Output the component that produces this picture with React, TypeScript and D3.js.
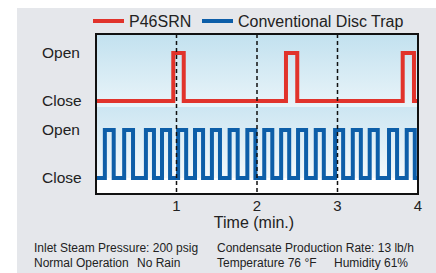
import React from 'react';
import * as d3 from 'd3';

// time in minutes
const timeTicks = [1, 2, 3, 4];
const gridTimes = [1, 2, 3];
const levelLabels = ['Open', 'Close'];

// open intervals [start, end] in minutes
const p46Open = [
  [0.96, 1.09],
  [2.36, 2.5],
  [3.81, 3.95],
];
const discOpen = [
  [0.11, 0.22], [0.35, 0.46], [0.62, 0.72], [0.82, 0.92], [1.02, 1.12],
  [1.23, 1.33], [1.44, 1.54], [1.66, 1.76], [1.88, 1.98], [2.09, 2.19],
  [2.3, 2.4], [2.51, 2.61], [2.73, 2.83], [2.97, 3.07], [3.19, 3.29],
  [3.4, 3.5], [3.64, 3.74], [3.86, 3.96],
];

const legendItems = [
  { name: 'P46SRN', color: '#e1332b' },
  { name: 'Conventional Disc Trap', color: '#0d5ea8' },
];

const W = 436;
const H = 273;
const plot = { left: 96, right: 418, top: 34, bottom: 194 };
const font = '"Liberation Sans", Arial, sans-serif';

// turn open intervals into step points (0 = close, 1 = open)
function stepPoints(intervals: number[][]) {
  const pts: [number, number][] = [[0, 0]];
  intervals.forEach(([a, b]) => {
    pts.push([a, 0], [a, 1], [b, 1], [b, 0]);
  });
  pts.push([4, 0]);
  return pts;
}

export default function App() {
  const x = d3.scaleLinear().domain([0, 4]).range([plot.left, plot.right]);
  const yRed = d3.scaleLinear().domain([0, 1]).range([101, 53]);
  const yBlue = d3.scaleLinear().domain([0, 1]).range([178, 130]);

  const redLine = d3.line<[number, number]>().x((d) => x(d[0])).y((d) => yRed(d[1]));
  const blueLine = d3.line<[number, number]>().x((d) => x(d[0])).y((d) => yBlue(d[1]));

  return (
    <svg
      width={W}
      height={H}
      style={{ position: 'absolute', left: 0, top: 0, display: 'block' }}
      fontFamily={font}
    >
      <defs>
        <linearGradient id="bandTop" x1="0" y1="0" x2="0" y2="1">
          <stop offset="0" stopColor="#c2e1ef" />
          <stop offset="1" stopColor="#e9f4f9" />
        </linearGradient>
        <linearGradient id="bandBottom" x1="0" y1="0" x2="0" y2="1">
          <stop offset="0" stopColor="#cde6f2" />
          <stop offset="1" stopColor="#f2f8fb" />
        </linearGradient>
        <clipPath id="plotClip">
          <rect x={plot.left} y={plot.top} width={plot.right - plot.left} height={plot.bottom - plot.top} />
        </clipPath>
      </defs>

      <rect x={0} y={0} width={W} height={H} fill="#fff" />
      <rect x={17} y={8} width={W - 17} height={H - 8} fill="#e5e7eb" />

      {/* legend */}
      {legendItems.map((it, i) => {
        const x0 = i === 0 ? 93 : 202;
        return (
          <g key={it.name}>
            <line x1={x0} x2={x0 + 31} y1={21} y2={21} stroke={it.color} strokeWidth={4} />
            <text x={x0 + 36} y={26.5} fontSize={16} fill="#222">
              {it.name}
            </text>
          </g>
        );
      })}

      {/* plot background */}
      <rect x={plot.left} y={plot.top} width={plot.right - plot.left} height={107 - plot.top} fill="url(#bandTop)" />
      <rect x={plot.left} y={107} width={plot.right - plot.left} height={178 - 107} fill="url(#bandBottom)" />
      <rect x={plot.left} y={178} width={plot.right - plot.left} height={plot.bottom - 178} fill="#ffffff" />

      <g clipPath="url(#plotClip)">
        <path d={redLine(stepPoints(p46Open)) || ''} fill="none" stroke={legendItems[0].color} strokeWidth={4} strokeLinejoin="miter" />
        <path d={blueLine(stepPoints(discOpen)) || ''} fill="none" stroke={legendItems[1].color} strokeWidth={4} strokeLinejoin="miter" />
      </g>

      {gridTimes.map((t) => (
        <line key={t} x1={x(t)} x2={x(t)} y1={plot.top} y2={plot.bottom} stroke="#111" strokeWidth={1.5} strokeDasharray="4,3" />
      ))}

      <rect
        x={plot.left}
        y={plot.top}
        width={plot.right - plot.left}
        height={plot.bottom - plot.top}
        fill="none"
        stroke="#111"
        strokeWidth={2}
      />

      {/* y labels */}
      {[yRed, yBlue].map((ys, si) =>
        levelLabels.map((lab, li) => (
          <text key={si + lab} x={42} y={ys(li === 0 ? 1 : 0) + 5} fontSize={15.5} fill="#222">
            {lab}
          </text>
        ))
      )}

      {/* x axis */}
      {timeTicks.map((t) => (
        <text key={t} x={x(t)} y={211} fontSize={15} textAnchor="middle" fill="#222">
          {t}
        </text>
      ))}
      <text x={(plot.left + plot.right) / 2 - 3} y={228} fontSize={16} textAnchor="middle" fill="#222">
        Time (min.)
      </text>

      {/* notes */}
      <g fontSize={12} fill="#222">
        <text x={34} y={252}>Inlet Steam Pressure: 200 psig</text>
        <text x={34} y={267}>Normal Operation</text>
        <text x={137} y={267}>No Rain</text>
        <text x={217} y={252}>Condensate Production Rate: 13 lb/h</text>
        <text x={217} y={267}>Temperature 76 °F</text>
        <text x={334} y={267}>Humidity 61%</text>
      </g>
    </svg>
  );
}
